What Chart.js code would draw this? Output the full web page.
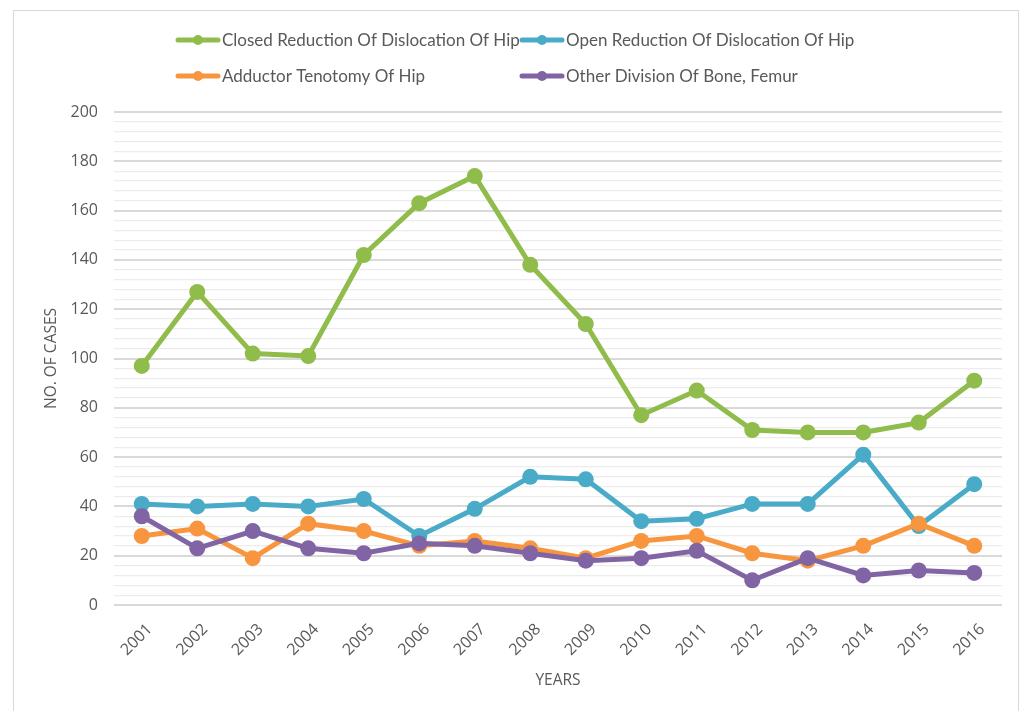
<!DOCTYPE html>
<html>
<head>
<meta charset="utf-8">
<script src="https://cdn.jsdelivr.net/npm/chart.js@4.4.1/dist/chart.umd.min.js"></script>
<style>
  html, body { margin: 0; padding: 0; background: #ffffff; }
  #wrap { position: relative; width: 1027px; height: 711px; overflow: hidden; }
  #frame { position: absolute; left: 13px; top: 10px; width: 1006px; height: 720px; border: 1px solid #d9d9d9; box-sizing: border-box; pointer-events: none; }
  canvas { position: absolute; left: 0; top: 0; }
</style>
</head>
<body>
<div id="wrap">
  <div id="frame"></div>
  <canvas id="c" width="1027" height="711"></canvas>
</div>
<script>
const years = ['2001','2002','2003','2004','2005','2006','2007','2008','2009','2010','2011','2012','2013','2014','2015','2016'];
const closedReduction = [97, 127, 102, 101, 142, 163, 174, 138, 114, 77, 87, 71, 70, 70, 74, 91];
const openReduction   = [41, 40, 41, 40, 43, 28, 39, 52, 51, 34, 35, 41, 41, 61, 32, 49];
const adductorTenotomy = [28, 31, 19, 33, 30, 24, 26, 23, 19, 26, 28, 21, 18, 24, 33, 24];
const otherDivision   = [36, 23, 30, 23, 21, 25, 24, 21, 18, 19, 22, 10, 19, 12, 14, 13];
const seriesNames = ['Closed Reduction Of Dislocation Of Hip', 'Open Reduction Of Dislocation Of Hip', 'Adductor Tenotomy Of Hip', 'Other Division Of Bone, Femur'];
const seriesColors = ['#8fbc4a', '#49abc7', '#f7963f', '#8064a3'];
const yMin = 0, yMax = 200, yMajor = 20, yMinor = 4;

const textColor = '#595959';
const tickFont = { family: '"Open Sans", "Liberation Sans", sans-serif', size: 16 };
const titleFont = { family: '"Open Sans", "Liberation Sans", sans-serif', size: 15.5 };
const legendFontStr = '17px Lato, "Open Sans", sans-serif';

function mk(i, data) {
  return {
    label: seriesNames[i],
    data: data,
    borderColor: seriesColors[i],
    backgroundColor: seriesColors[i],
    pointBackgroundColor: seriesColors[i],
    pointBorderColor: seriesColors[i],
    borderWidth: 5,
    pointRadius: 8,
    pointHoverRadius: 8,
    pointBorderWidth: 0,
    tension: 0,
    order: 3 - i
  };
}

const legendPlugin = {
  id: 'gridLegend',
  afterDraw(chart) {
    const ctx = chart.ctx;
    const slots = [[178, 40], [522, 40], [178, 76], [522, 76]];
    ctx.save();
    ctx.font = legendFontStr;
    ctx.textBaseline = 'middle';
    ctx.textAlign = 'left';
    chart.data.datasets.forEach((ds, i) => {
      const [x, y] = slots[i];
      ctx.strokeStyle = ds.borderColor;
      ctx.lineWidth = 5;
      ctx.lineCap = 'round';
      ctx.beginPath();
      ctx.moveTo(x, y);
      ctx.lineTo(x + 40, y);
      ctx.stroke();
      ctx.fillStyle = ds.borderColor;
      ctx.beginPath();
      ctx.arc(x + 20, y, 5, 0, Math.PI * 2);
      ctx.fill();
      ctx.fillStyle = textColor;
      ctx.fillText(ds.label, x + 44, y + 1);
    });
    ctx.restore();
  }
};

new Chart(document.getElementById('c'), {
  type: 'line',
  data: {
    labels: years,
    datasets: [mk(0, closedReduction), mk(1, openReduction), mk(2, adductorTenotomy), mk(3, otherDivision)]
  },
  plugins: [legendPlugin],
  options: {
    responsive: false,
    animation: false,
    layout: { padding: { left: 0, right: 25, top: 112, bottom: 0 } },
    plugins: { legend: { display: false }, tooltip: { enabled: false } },
    scales: {
      x: {
        type: 'category',
        offset: true,
        grid: { display: false },
        border: { display: false },
        ticks: { color: textColor, font: tickFont, maxRotation: 45, minRotation: 45, padding: 7, labelOffset: 8, autoSkip: false },
        title: { display: true, text: 'YEARS', color: textColor, font: titleFont, padding: { top: 4, bottom: 21 } },
        afterFit(scale) { scale.height = 106; }
      },
      y: {
        min: yMin, max: yMax,
        border: { display: false },
        grid: {
          drawTicks: false,
          color: (c) => (c.tick && c.tick.value % yMajor === 0) ? '#d9d9d9' : '#ececec',
          lineWidth: (c) => (c.tick && c.tick.value % yMajor === 0) ? 2 : 1.2
        },
        ticks: {
          stepSize: yMinor, autoSkip: false, color: textColor, font: tickFont, padding: 16,
          callback: (v) => (v % yMajor === 0 ? String(v) : '')
        },
        title: { display: true, text: 'NO. OF CASES', color: textColor, font: titleFont, padding: { top: 42, bottom: 0 } },
        afterFit(scale) { scale.width = 114; }
      }
    }
  }
});
</script>
</body>
</html>
